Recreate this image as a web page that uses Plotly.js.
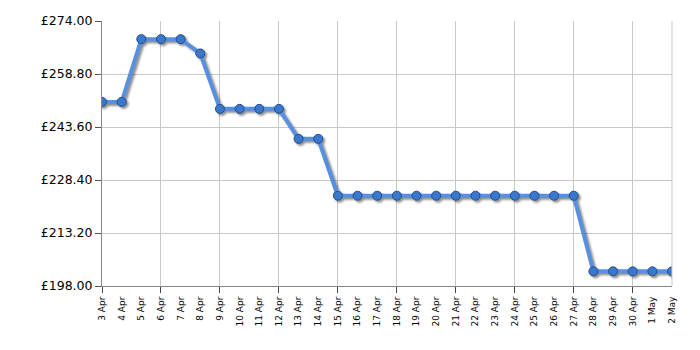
<!DOCTYPE html>
<html>
<head>
<meta charset="utf-8">
<script src="https://cdn.plot.ly/plotly-3.0.1.min.js"></script>
<style>
html,body{margin:0;padding:0;background:#fff;}
#chart{width:700px;height:350px;}
.scatterlayer .trace:first-child{filter:drop-shadow(2px 2px 1.2px rgba(0,0,0,0.45));}
</style>
</head>
<body>
<div id="chart"></div>
<script>
const dates = ["3 Apr","4 Apr","5 Apr","6 Apr","7 Apr","8 Apr","9 Apr","10 Apr","11 Apr","12 Apr","13 Apr","14 Apr","15 Apr","16 Apr","17 Apr","18 Apr","19 Apr","20 Apr","21 Apr","22 Apr","23 Apr","24 Apr","25 Apr","26 Apr","27 Apr","28 Apr","29 Apr","30 Apr","1 May","2 May"];
const prices = [250.8,250.8,268.8,268.8,268.8,264.7,248.8,248.8,248.8,248.8,240.2,240.2,223.9,223.9,223.9,223.9,223.9,223.9,223.9,223.9,223.9,223.9,223.9,223.9,223.9,202.2,202.2,202.2,202.2,202.2];
const yTicks = [198.0,213.2,228.4,243.6,258.8,274.0];
const gridDates = dates.filter((d,i)=>i%3===0);

const traces = [
  {
    x: dates, y: prices, type: 'scatter', mode: 'lines+markers',
    line: {color: '#5790e0', width: 4},
    marker: {size: 9, color: '#3b78cc', line: {color: '#1d4e8c', width: 1}},
    hoverinfo: 'x+y', showlegend: false
  },
  {
    x: dates, y: prices, xaxis: 'x2', type: 'scatter', mode: 'markers',
    marker: {opacity: 0}, hoverinfo: 'skip', showlegend: false
  }
];

const layout = {
  width: 700, height: 350,
  margin: {l: 102, r: 28, t: 21, b: 64},
  paper_bgcolor: '#fff', plot_bgcolor: '#fff',
  font: {family: 'DejaVu Sans, Verdana, sans-serif', color: '#000'},
  xaxis: {
    type: 'category', range: [0, dates.length - 1],
    tickmode: 'array', tickvals: gridDates, ticktext: gridDates.map(() => ''),
    showticklabels: true,
    ticks: 'outside', ticklen: 6, tickcolor: '#444', tickwidth: 1,
    showgrid: true, gridcolor: '#c8c8c8', gridwidth: 1,
    showline: true, linecolor: '#888', linewidth: 1,
    zeroline: false, fixedrange: true
  },
  xaxis2: {
    type: 'category', overlaying: 'x', side: 'bottom', range: [0, dates.length - 1],
    tickmode: 'array', tickvals: dates, ticktext: dates,
    tickangle: -90, tickfont: {size: 9, color: '#000'},
    ticks: 'outside', ticklen: 6, tickcolor: 'rgba(0,0,0,0)',
    showgrid: false, showline: false, zeroline: false, fixedrange: true
  },
  yaxis: {
    range: [198, 274], tickmode: 'array', tickvals: yTicks,
    ticktext: yTicks.map(v => '£' + v.toFixed(2)),
    tickfont: {size: 12.5, color: '#000'},
    ticks: 'outside', ticklen: 6, tickcolor: '#555',
    showgrid: true, gridcolor: '#c8c8c8', gridwidth: 1,
    showline: true, linecolor: '#888', linewidth: 1,
    zeroline: false, fixedrange: true
  },
  shapes: [
    {type: 'line', xref: 'paper', yref: 'paper', x0: 1, x1: 1, y0: 0, y1: 1, line: {color: '#c8c8c8', width: 1}}
  ]
};

Plotly.newPlot('chart', traces, layout, {displayModeBar: false, staticPlot: true});
</script>
</body>
</html>
